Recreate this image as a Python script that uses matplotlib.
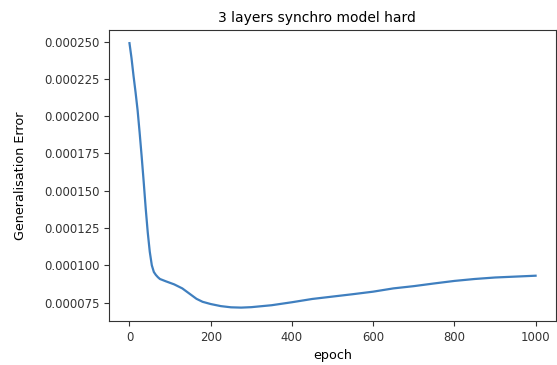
import matplotlib
matplotlib.use("Agg")
import matplotlib.pyplot as plt
from matplotlib.ticker import FormatStrFormatter

# generalisation error per epoch, in units of 1e-5
epochs = [0, 5, 10, 15, 20, 25, 30, 35, 40, 45, 50, 55, 60, 65, 70, 75, 90,
          110, 130, 150, 165, 180, 200, 225, 250, 275, 300, 350, 400, 450,
          500, 550, 600, 650, 700, 750, 800, 850, 900, 950, 1000]
errors = [24.9, 23.9, 22.7, 21.6, 20.4, 18.9, 17.3, 15.6, 13.8, 12.2, 10.9,
          10.0, 9.55, 9.35, 9.2, 9.08, 8.92, 8.72, 8.45, 8.05, 7.75, 7.55,
          7.4, 7.26, 7.18, 7.16, 7.19, 7.32, 7.52, 7.74, 7.9, 8.06, 8.23,
          8.45, 8.6, 8.78, 8.95, 9.08, 9.18, 9.24, 9.3]
errors = [e * 1e-5 for e in errors]

fig = plt.figure(figsize=(5.57, 3.65), dpi=100)
ax = fig.add_axes([0.196, 0.121, 0.802, 0.797])
ax.plot(epochs, errors, color="#3f7fbf", linewidth=1.6)
ax.set_title("3 layers synchro model hard", fontsize=10, x=0.465)
ax.set_xlabel("epoch", fontsize=9.2)
ax.set_ylabel("Generalisation Error", fontsize=9.2, labelpad=12)
ax.set_xticks([0, 200, 400, 600, 800, 1000])
ax.set_yticks([7.5e-5, 1e-4, 1.25e-4, 1.5e-4, 1.75e-4, 2e-4, 2.25e-4, 2.5e-4])
ax.yaxis.set_major_formatter(FormatStrFormatter("%.6f"))
ax.tick_params(labelsize=8.4, colors="#333333")
for s in ax.spines.values():
    s.set_color("#333333")

fig.savefig("out.png", dpi=100)
